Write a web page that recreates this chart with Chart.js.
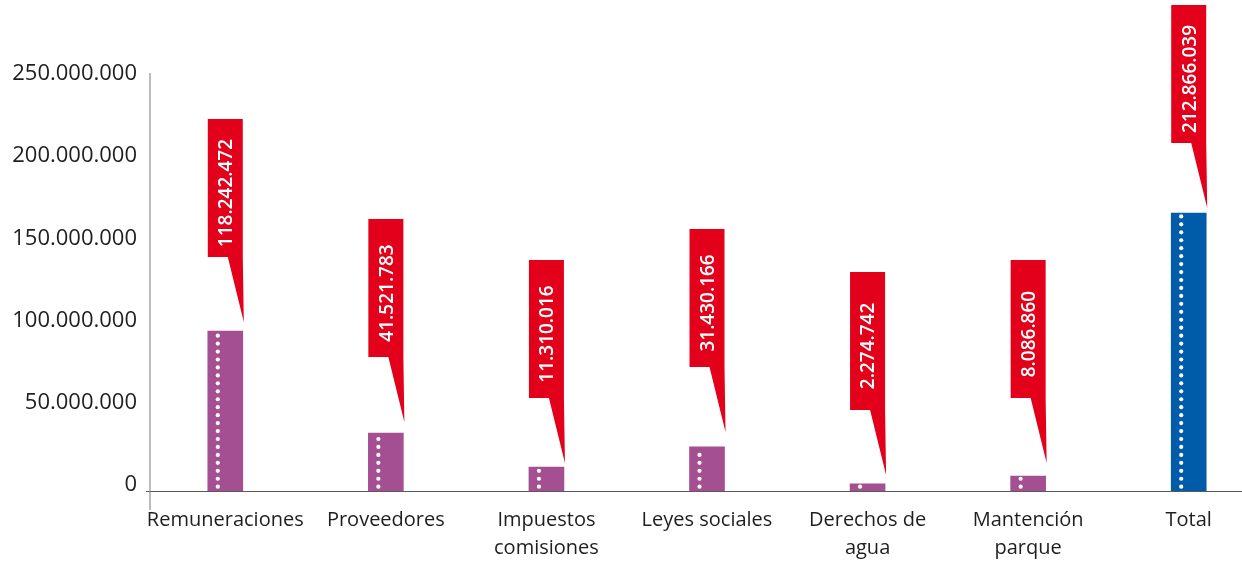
<!DOCTYPE html>
<html>
<head>
<meta charset="utf-8">
<script src="https://cdn.jsdelivr.net/npm/chart.js@4"></script>
<style>
    html, body { margin: 0; padding: 0; background: #fff; overflow: hidden; }
    #wrap { position: relative; width: 1269px; height: 569px; }
</style>
</head>
<body>
<div id="wrap"><canvas id="gastosChart"></canvas></div>
<script>
// Datos
const categorias = [
    'Remuneraciones',
    'Proveedores',
    ['Impuestos', 'comisiones'],
    'Leyes sociales',
    ['Derechos de', 'agua'],
    ['Mantención', 'parque'],
    'Total'
];
// altura de las barras (tal como están dibujadas)
const valoresBarras = [97300000, 35300000, 14600000, 26800000, 4300000, 9100000, 169100000];
// textos de los globos rojos
const etiquetasValor = ['118.242.472', '41.521.783', '11.310.016', '31.430.166', '2.274.742', '8.086.860', '212.866.039'];
const yTickLabels = ['0', '50.000.000', '100.000.000', '150.000.000', '200.000.000', '250.000.000'];

const PURPLE = '#a54f93';
const BLUE = '#005ca9';
const RED = '#e2001a';
const TEXT = '#1e1e1e';

// Líneas de ejes (y un poco por fuera del área, como el original)
const axisLines = {
    id: 'axisLines',
    beforeDatasetsDraw(chart) {
        const ctx = chart.ctx;
        const area = chart.chartArea;
        const y0 = chart.scales.y.getPixelForValue(0);
        ctx.save();
        ctx.lineWidth = 1.2;
        ctx.strokeStyle = '#5a5a5a';
        ctx.beginPath();
        ctx.moveTo(area.left + 1, y0 + 0.5);
        ctx.lineTo(chart.width, y0 + 0.5);
        ctx.stroke();
        ctx.strokeStyle = '#8f8f8f';
        ctx.beginPath();
        ctx.moveTo(area.left + 5, area.top - 7);
        ctx.lineTo(area.left + 5, y0 + 19);
        ctx.stroke();
        ctx.restore();
    }
};

// Puntos blancos dentro de las barras + globos con el valor
const calloutPlugin = {
    id: 'callouts',
    afterDatasetsDraw(chart, args, opts) {
        const ctx = chart.ctx;
        const meta = chart.getDatasetMeta(0);
        meta.data.forEach((bar, i) => {
            const left = bar.x - bar.width / 2;
            const right = bar.x + bar.width / 2;
            const base = bar.base;

            // puntos
            ctx.save();
            ctx.fillStyle = '#ffffff';
            for (let y = base - 4.3; y > bar.y + 2; y -= 7.95) {
                ctx.beginPath();
                ctx.arc(left + 10, y, 2.1, 0, Math.PI * 2);
                ctx.fill();
            }
            ctx.restore();

            // globo
            const tipY = bar.y - opts.gaps[i];
            const boxBottom = tipY - opts.tail;
            const boxTop = boxBottom - opts.boxHeight;
            ctx.save();
            ctx.fillStyle = RED;
            ctx.beginPath();
            ctx.moveTo(left, boxTop);
            ctx.lineTo(right, boxTop);
            ctx.lineTo(right, boxBottom);
            ctx.lineTo(right + 1, tipY);
            ctx.lineTo(left + 20, boxBottom);
            ctx.lineTo(left, boxBottom);
            ctx.closePath();
            ctx.fill();

            ctx.translate(bar.x, (boxTop + boxBottom) / 2 + 5);
            ctx.rotate(-Math.PI / 2);
            ctx.fillStyle = '#ffffff';
            ctx.font = '600 19px "Open Sans"';
            ctx.textAlign = 'center';
            ctx.textBaseline = 'middle';
            ctx.fillText(etiquetasValor[i], 0, 1.5);
            ctx.restore();
        });
    }
};

function createGastosChart() {
    const canvas = document.getElementById('gastosChart');
    new Chart(canvas, {
        type: 'bar',
        data: {
            labels: categorias,
            datasets: [{
                data: valoresBarras,
                backgroundColor: ctx => ctx.dataIndex === valoresBarras.length - 1 ? BLUE : PURPLE,
                barThickness: 35,
                borderWidth: 0
            }]
        },
        options: {
            responsive: true,
            maintainAspectRatio: false,
            animation: false,
            layout: { padding: { top: 80, left: 0, right: 0, bottom: 0 } },
            scales: {
                x: {
                    grid: { display: false, drawTicks: false },
                    border: { display: false },
                    ticks: {
                        color: TEXT,
                        padding: 15,
                        maxRotation: 0,
                        autoSkip: false,
                        font: { family: 'Open Sans', size: 20, lineHeight: 1.4 }
                    },
                    afterFit: s => { s.height = 78; }
                },
                y: {
                    min: 0,
                    max: 250000000,
                    grid: { display: false, drawTicks: false },
                    border: { display: false },
                    ticks: {
                        stepSize: 50000000,
                        color: TEXT,
                        padding: 8,
                        labelOffset: -6,
                        font: { family: 'Open Sans', size: 22 },
                        callback: (value, index) => yTickLabels[index]
                    },
                    afterFit: s => { s.width = 145; }
                }
            },
            plugins: {
                legend: { display: false },
                tooltip: { enabled: false },
                callouts: {
                    gaps: [9, 11, 4, 15, 9, 13, 5],
                    tail: 65,
                    boxHeight: 138
                }
            }
        },
        plugins: [axisLines, calloutPlugin]
    });
}

document.addEventListener('DOMContentLoaded', createGastosChart);
</script>
</body>
</html>
